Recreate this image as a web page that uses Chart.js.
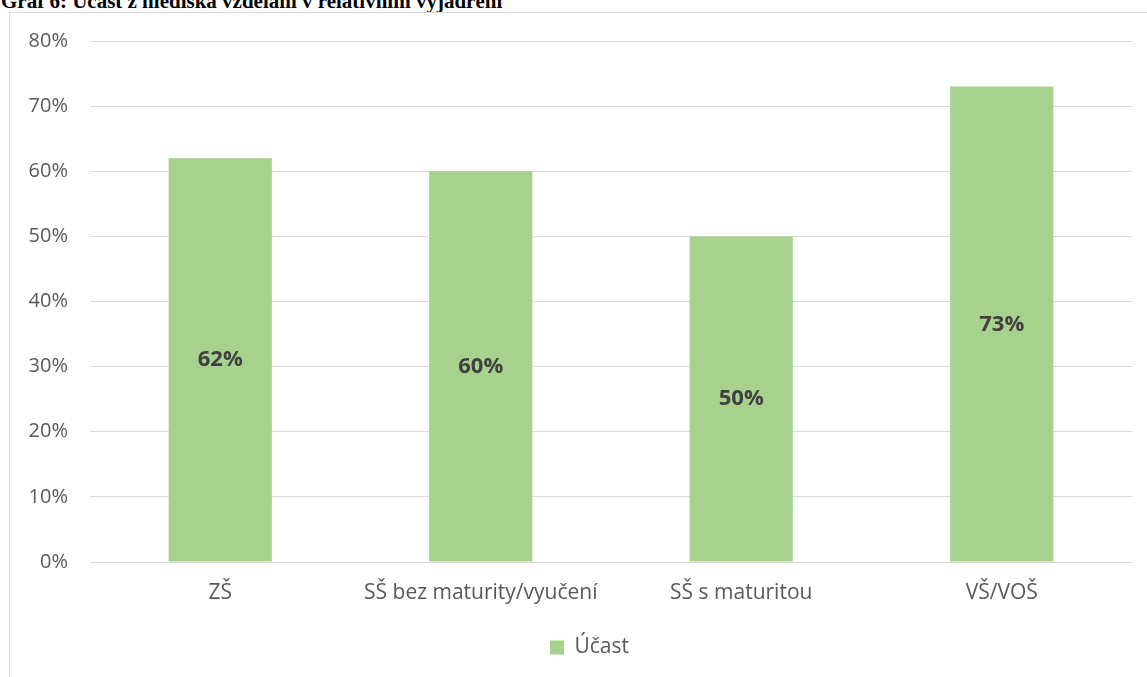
<!DOCTYPE html>
<html>
<head>
<meta charset="utf-8">
<script src="https://cdn.jsdelivr.net/npm/chart.js@4"></script>
<style>
html,body{margin:0;padding:0;background:#fff;width:1147px;height:677px;overflow:hidden;position:relative;}
#title{position:absolute;left:1px;top:-9px;font-family:"Liberation Serif","Times New Roman",serif;font-weight:bold;font-size:21px;line-height:21px;color:#000;white-space:nowrap;}
#box{position:absolute;left:9px;top:12px;width:1200px;height:700px;border:1px solid #d9d9d9;}
#wrap{position:absolute;left:0;top:0;width:1136px;height:664px;}
</style>
</head>
<body>
<div id="title">Graf 6: Účast z hlediska vzdělání v relativním vyjádření</div>
<div id="box"><div id="wrap"><canvas id="c"></canvas></div></div>
<script>
const categories = ["ZŠ", "SŠ bez maturity/vyučení", "SŠ s maturitou", "VŠ/VOŠ"];
const seriesName = "Účast";
const values = [62, 60, 50, 73];
const yTicks = [0, 10, 20, 30, 40, 50, 60, 70, 80];

const FONT = "'Open Sans', Lato, sans-serif";
const labelPlugin = {
  id: 'centerLabels',
  afterDatasetsDraw(chart) {
    const ctx = chart.ctx;
    const meta = chart.getDatasetMeta(0);
    const ys = chart.scales.y;
    ctx.save();
    ctx.font = "bold 22px " + FONT;
    ctx.fillStyle = "#404040";
    ctx.textAlign = "center";
    ctx.textBaseline = "middle";
    meta.data.forEach((bar, i) => {
      const v = chart.data.datasets[0].data[i];
      const y = (ys.getPixelForValue(v) + ys.getPixelForValue(0)) / 2;
      ctx.fillText(v + "%", bar.x, y);
    });
    ctx.restore();
  }
};

new Chart(document.getElementById('c'), {
  type: 'bar',
  data: {
    labels: categories,
    datasets: [{
      label: seriesName,
      data: values,
      backgroundColor: '#a9d18e',
      borderWidth: 0,
      categoryPercentage: 0.8,
      barPercentage: 0.495
    }]
  },
  options: {
    responsive: true,
    maintainAspectRatio: false,
    animation: false,
    layout: { padding: { top: 28, right: 14, left: 37, bottom: 9 } },
    plugins: {
      legend: {
        position: 'bottom',
        labels: {
          font: { family: FONT, size: 21 },
          color: '#595959',
          boxWidth: 14,
          boxHeight: 14,
          padding: 15
        }
      },
      tooltip: { enabled: false }
    },
    scales: {
      x: {
        grid: { display: false, drawTicks: false },
        border: { display: false },
        ticks: { font: { family: FONT, size: 21 }, color: '#595959', padding: 18 },
        afterFit(s) { s.height = 60; s.paddingLeft = 0; s.paddingRight = 0; }
      },
      y: {
        min: 0, max: 80,
        afterBuildTicks(s) { s.ticks = yTicks.map(v => ({ value: v })); },
        grid: { color: '#d9d9d9', lineWidth: 1, drawTicks: false },
        border: { display: false },
        ticks: {
          font: { family: FONT, size: 20 },
          color: '#595959',
          padding: 22,
          callback: v => v + '%'
        },
        afterFit(s) {
          s.width = 43; s.paddingTop = 0; s.paddingBottom = 0;
          s._computeLabelArea = () => undefined;
        }
      }
    }
  },
  plugins: [labelPlugin]
});
</script>
</body>
</html>
